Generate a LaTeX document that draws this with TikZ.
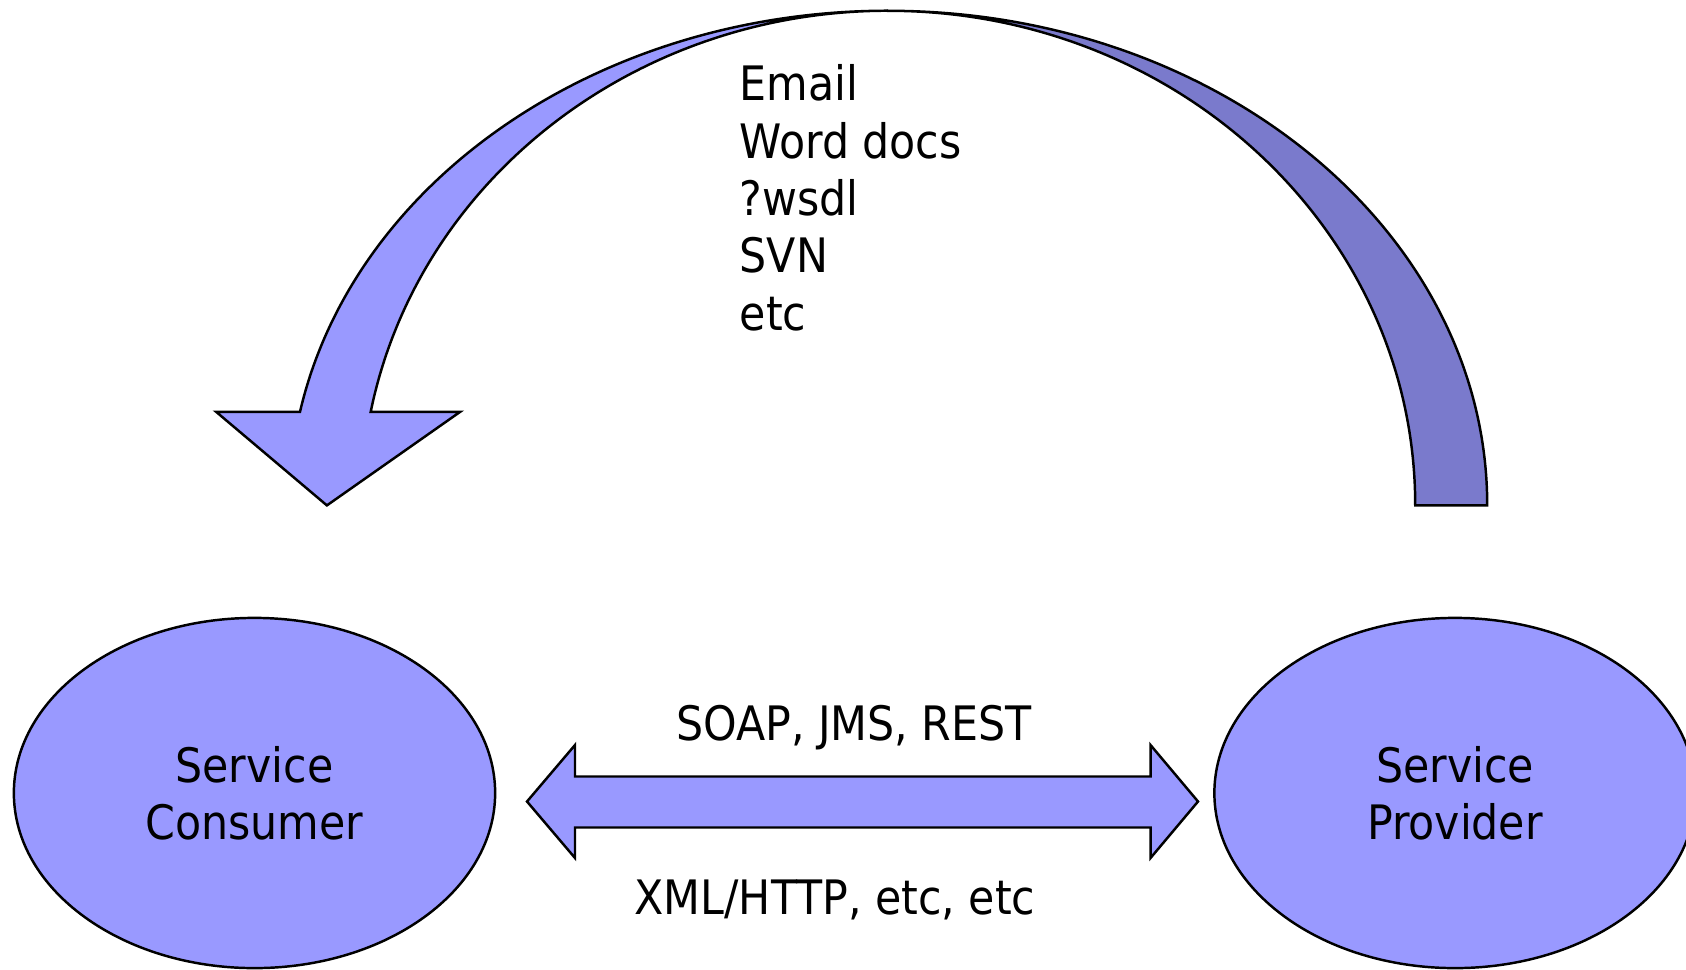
\documentclass[tikz,border=0pt]{standalone}
\usepackage{fontspec}
\setmainfont{DejaVu Sans Condensed}
\usepackage{tikz}
\usetikzlibrary{shapes.geometric}

\definecolor{lightblob}{HTML}{9999FF}
\definecolor{darkblob}{HTML}{7A7ACC}

\tikzset{
	party/.style={ellipse, draw, line width=0.7pt, fill=lightblob, inner sep=0pt,
		minimum width=4.81cm, minimum height=3.5cm, align=center},
	blob/.style={draw, line width=0.7pt, line join=miter},
	say/.style={inner sep=0pt, font=\fontsize{13.5}{16.3}\selectfont}
}

\begin{document}
\begin{tikzpicture}[x=0.01cm, y=0.01cm, say]
	
	\useasboundingbox (0,0) rectangle (1686,969);
	
	% the two parties
	\node[party] (cons) at (254.5,176) {Service\\Consumer};
	
	\node[party] (prov) at (1455,176) {Service\\Provider};
	
	% curved arrow, back half first
	\coordinate (hub) at (888.2,463.6);
	
	\draw[blob, fill=darkblob] (888.2,958.2) arc[start angle=90, end angle=0, x radius=599, y radius=494.6]
		-- (1415.2,463.6) arc[start angle=0, end angle=90, x radius=527, y radius=494.6] -- cycle;
	
	\draw[blob, fill=lightblob] (300,557.2) arc[start angle=169.1, end angle=90, x radius=599, y radius=494.6]
		arc[start angle=90, end angle=169.1, x radius=527, y radius=494.6]
		-- (460.2,557.2) -- (326.9,463.6) -- (216.1,557.2) -- cycle;
	
	% double arrow between the parties
	\draw[blob, fill=lightblob] (527,167.5) -- (575,224) -- (575,192.5) -- (1150.5,192.5)
		-- (1150.5,224) -- (1198,167.5) -- (1150.5,111) -- (1150.5,141.5)
		-- (575,141.5) -- (575,111) -- cycle;
	
	% labels
	\node[anchor=base] (proto) at (854,229) {SOAP, JMS, REST};
	
	\node[anchor=base] (wire) at (835,55) {XML/HTTP, etc, etc};
	
	\node[anchor=north west, align=left] (docs) at (739,905) {Email\\Word docs\\?wsdl\\SVN\\etc};
	
\end{tikzpicture}
\end{document}
